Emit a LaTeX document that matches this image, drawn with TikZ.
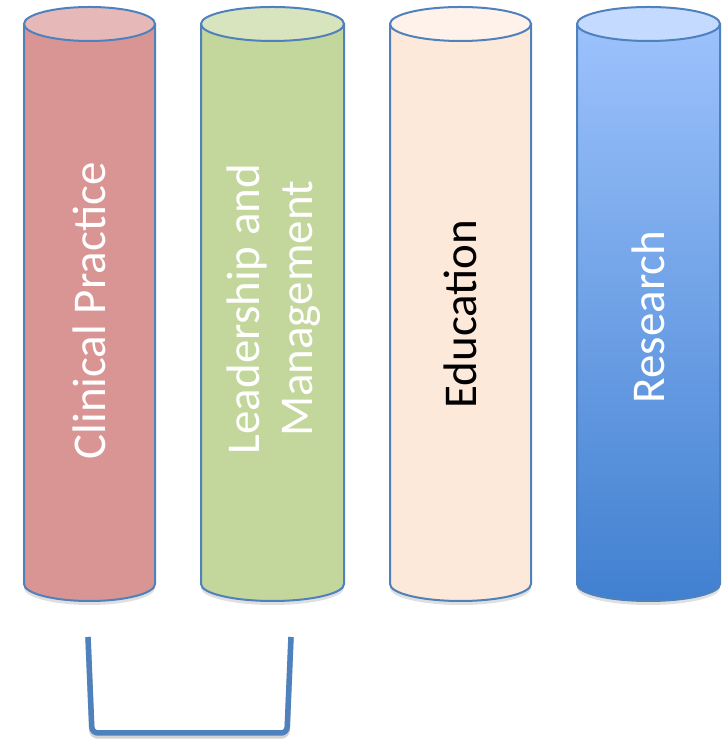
\documentclass[tikz,border=0pt]{standalone}
\usepackage{fontspec}
\setmainfont{Carlito}
\usetikzlibrary{shadows}

\definecolor{rimblue}{HTML}{4F81BD}
\definecolor{clinbody}{HTML}{D99594}
\definecolor{clintop}{HTML}{E6B9B8}
\definecolor{leadbody}{HTML}{C3D69B}
\definecolor{leadtop}{HTML}{D7E4BD}
\definecolor{edubody}{HTML}{FDE9D9}
\definecolor{edutop}{HTML}{FEF2EA}
\definecolor{reshigh}{HTML}{9CC2FC}
\definecolor{reslow}{HTML}{4180D0}
\definecolor{restop}{HTML}{C4DAFE}

\tikzset{
  rim/.style={draw=rimblue,line width=2pt},
  pillar shadow/.style={drop shadow={shadow xshift=0pt,shadow yshift=-4pt,opacity=.25}},
  pillar text/.style={rotate=90,font=\fontsize{47}{53}\selectfont,align=center}
}

\begin{document}
\begin{tikzpicture}[x=1pt,y=1pt]
\useasboundingbox (0,0) rectangle (726,741);

%draws the first three pillars
\foreach \xl/\xr/\body/\top in {24/155/clinbody/clintop,201/344/leadbody/leadtop,390/531/edubody/edutop}{
    \pgfmathsetmacro{\rx}{(\xr-\xl)/2}
    \draw[rim,fill=\body,pillar shadow] (\xl,717) -- (\xl,157)
        arc[start angle=180,end angle=360,x radius=\rx,y radius=17] -- (\xr,717) -- cycle;
    \draw[rim,fill=\top] ({(\xl+\xr)/2},717) ellipse[x radius=\rx,y radius=17];
}

%draws the research pillar with its shading
\draw[rim,top color=reshigh,bottom color=reslow,pillar shadow] (577,717) -- (577,157)
    arc[start angle=180,end angle=360,x radius=71.5,y radius=17] -- (720,717) -- cycle;
\draw[rim,fill=restop] (648.5,717) ellipse[x radius=71.5,y radius=17];

%labels on the pillars
\node[pillar text,white] (clinical) at (89.5,430) {Clinical Practice};
\node[pillar text,white] (leadership) at (274,432) {Leadership and\\Management};
\node[pillar text,black] (education) at (460.5,427) {Education};
\node[pillar text,white] (research) at (648.5,424) {Research};

%bracket under the first two pillars
\coordinate (bracket left) at (88,104);
\coordinate (bracket right) at (291,104);
\draw[black!35,opacity=.5,line width=5.5pt,rounded corners=6pt,yshift=-3pt]
    (bracket left) -- (92,8) -- (287,8) -- (bracket right);
\draw[rimblue,line width=5.5pt,rounded corners=6pt]
    (bracket left) -- (92,8) -- (287,8) -- (bracket right);
\end{tikzpicture}
\end{document}
